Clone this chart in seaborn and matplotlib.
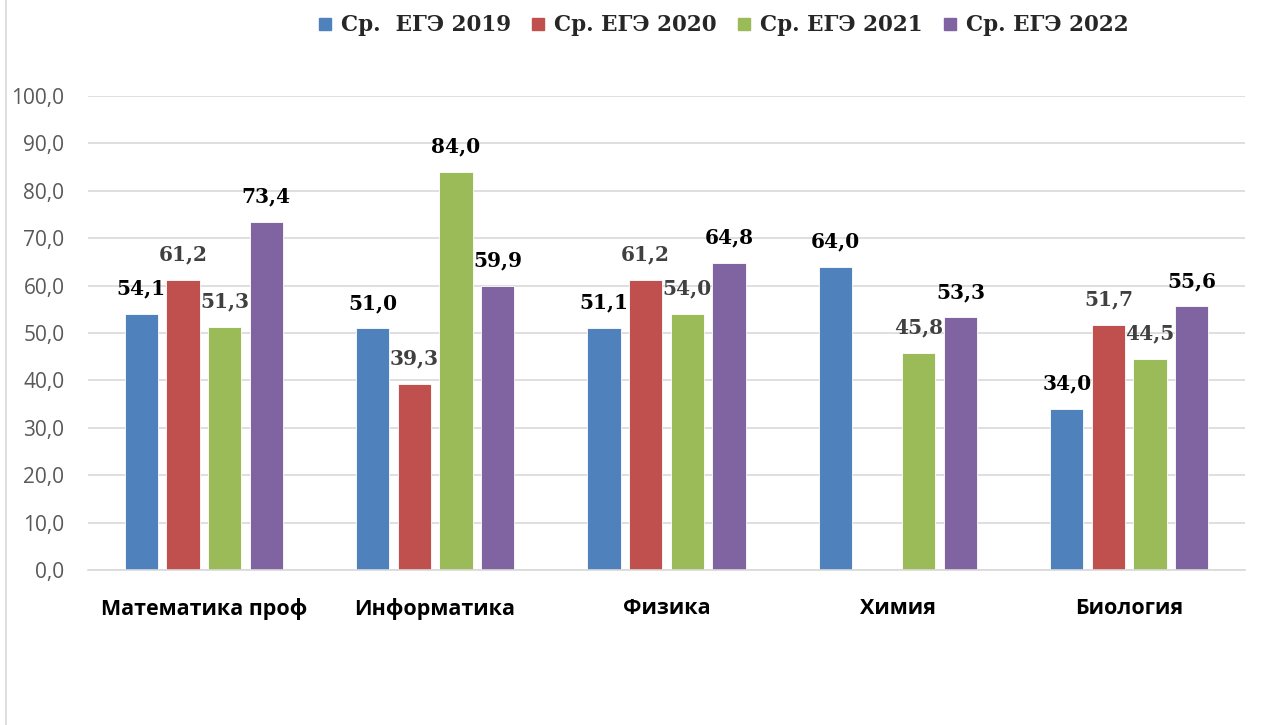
import numpy as np
import pandas as pd
import matplotlib
matplotlib.use("Agg")
import matplotlib.pyplot as plt
from matplotlib.lines import Line2D
import seaborn as sns

categories = ["Математика проф", "Информатика", "Физика", "Химия", "Биология"]
series_names = ["Ср.  ЕГЭ 2019", "Ср. ЕГЭ 2020", "Ср. ЕГЭ 2021", "Ср. ЕГЭ 2022"]
ege_2019 = [54.1, 51.0, 51.1, 64.0, 34.0]
ege_2020 = [61.2, 39.3, 61.2, np.nan, 51.7]
ege_2021 = [51.3, 84.0, 54.0, 45.8, 44.5]
ege_2022 = [73.4, 59.9, 64.8, 53.3, 55.6]
y_ticks = [0, 10, 20, 30, 40, 50, 60, 70, 80, 90, 100]

# label emphasis (True = black, False = gray), per series per category
label_dark = [
    [True, True, True, True, True],
    [False, False, False, False, False],
    [False, True, False, False, False],
    [True, True, True, True, True],
]

colors = ["#4F81BD", "#C0504D", "#9BBB59", "#8064A2"]

rows = []
for name, vals in zip(series_names, [ege_2019, ege_2020, ege_2021, ege_2022]):
    for c, v in zip(categories, vals):
        rows.append({"Предмет": c, "Серия": name, "Балл": v})
df = pd.DataFrame(rows)

sns.set_theme(style="white")
fig = plt.figure(figsize=(12.66, 7.25), dpi=100)
ax = fig.add_axes([88 / 1266, (725 - 570) / 725, (1245 - 88) / 1266, (570 - 96) / 725])

sns.barplot(data=df, x="Предмет", y="Балл", hue="Серия", order=categories,
            hue_order=series_names, palette=colors, width=0.72, gap=0.2,
            errorbar=None, ax=ax, legend=False, saturation=1,
            edgecolor="white", linewidth=0.6)

ax.set_ylim(0, 100)
ax.set_yticks(y_ticks)
ax.set_yticklabels([f"{t:.1f}".replace(".", ",") for t in y_ticks],
                   fontfamily="Open Sans", fontsize=15, color="#595959")
ax.set_xticklabels(categories, fontfamily="Open Sans", fontsize=15.5,
                   fontweight="bold", color="black")
ax.tick_params(axis="y", length=0, pad=17)
ax.tick_params(axis="x", length=0, pad=20)
ax.set_xlabel("")
ax.set_ylabel("")
ax.yaxis.grid(True, color="#D9D9D9", linewidth=1.2)
ax.set_axisbelow(True)
for s in ["top", "right", "left"]:
    ax.spines[s].set_visible(False)
ax.spines["bottom"].set_color("#D9D9D9")
ax.spines["bottom"].set_linewidth(1.2)

for si, cont in enumerate(ax.containers):
    for bar in cont:
        h = bar.get_height()
        if h is None or np.isnan(h) or h == 0:
            continue
        xc = bar.get_x() + bar.get_width() / 2
        ci = int(round(xc))
        col = "black" if label_dark[si][ci] else "#404040"
        ax.annotate(f"{h:.1f}".replace(".", ","), (xc, h), xytext=(0, 11),
                    textcoords="offset points", ha="center", va="bottom",
                    fontfamily="DejaVu Serif", fontweight="bold", fontsize=14.5,
                    color=col)

handles = [Line2D([0], [0], marker="s", linestyle="none", markersize=8,
                  markerfacecolor=c, markeredgecolor=c) for c in colors]
fig.legend(handles, series_names, loc="center", bbox_to_anchor=(0.571, 0.965),
           ncol=4, frameon=False, handlelength=0.7, handletextpad=0.4,
           columnspacing=0.9,
           prop={"family": "DejaVu Serif", "weight": "bold", "size": 15.5})

fig.add_artist(Line2D([6 / 1266, 6 / 1266], [0, 1], color="#D9D9D9", linewidth=1.2))

fig.savefig("out.png", dpi=100)
